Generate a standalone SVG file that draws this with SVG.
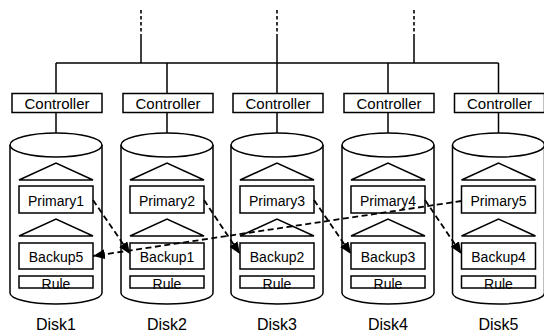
<svg xmlns="http://www.w3.org/2000/svg" width="544" height="332" viewBox="0 0 544 332">
<style>
.s{fill:none;stroke:#000;stroke-width:1.5}
.b{fill:#fff;stroke:#000;stroke-width:1.5}
.t{font-family:"Liberation Sans",Arial,sans-serif;fill:#000;text-anchor:middle}
.c{font-size:15px}
.p{font-size:14px}
.d{font-size:16px}
.dash{fill:none;stroke:#000;stroke-width:1.8;stroke-dasharray:6,3.5}
.top{fill:none;stroke:#000;stroke-width:1.6;stroke-dasharray:3.5,2.5}
</style>
<defs>
<marker id="ah" markerUnits="userSpaceOnUse" markerWidth="13" markerHeight="10" refX="12" refY="5" orient="auto">
<path d="M0,0 L12,5 L0,10 Z" fill="#000"/>
</marker>
<g id="disk">
<path class="b" d="M-46,145 L-46,293 A46,11 0 0 0 46,293 L46,145"/>
<ellipse class="b" cx="0" cy="145" rx="46" ry="12"/>
<path class="s" d="M-37,180 L0,163 L37,180 Z"/>
<rect class="s" x="-37" y="186" width="74" height="27"/>
<path class="s" d="M-37,236 L0,219 L37,236 Z"/>
<rect class="s" x="-37" y="243" width="74" height="26"/>
<rect class="s" x="-37" y="276" width="74" height="12"/>
</g>
</defs>
<g id="bus">
<line class="s" x1="56" y1="63" x2="498.5" y2="63"/>
<line class="s" x1="141" y1="34" x2="141" y2="63"/>
<line class="s" x1="277" y1="34" x2="277" y2="63"/>
<line class="s" x1="414" y1="34" x2="414" y2="63"/>
<line class="top" x1="141" y1="10" x2="141" y2="34"/>
<line class="top" x1="277" y1="10" x2="277" y2="34"/>
<line class="top" x1="414" y1="10" x2="414" y2="34"/>
</g>
<g id="disk1" transform="translate(56,0)">
<line class="s" x1="0" y1="63" x2="0" y2="93.5"/>
<line class="s" x1="0" y1="112.5" x2="0" y2="133"/>
<rect class="s" x="-44" y="93.5" width="90" height="19"/>
<text class="t c" x="1" y="108.5">Controller</text>
<use href="#disk"/>
<text class="t p" x="0" y="205.5">Primary1</text>
<text class="t p" x="0" y="261.5">Backup5</text>
<text class="t p" x="0" y="289">Rule</text>
<text class="t d" x="0" y="330">Disk1</text>
</g>
<g id="disk2" transform="translate(167,0)">
<line class="s" x1="0" y1="63" x2="0" y2="93.5"/>
<line class="s" x1="0" y1="112.5" x2="0" y2="133"/>
<rect class="s" x="-44" y="93.5" width="90" height="19"/>
<text class="t c" x="1" y="108.5">Controller</text>
<use href="#disk"/>
<text class="t p" x="0" y="205.5">Primary2</text>
<text class="t p" x="0" y="261.5">Backup1</text>
<text class="t p" x="0" y="289">Rule</text>
<text class="t d" x="0" y="330">Disk2</text>
</g>
<g id="disk3" transform="translate(277,0)">
<line class="s" x1="0" y1="63" x2="0" y2="93.5"/>
<line class="s" x1="0" y1="112.5" x2="0" y2="133"/>
<rect class="s" x="-44" y="93.5" width="90" height="19"/>
<text class="t c" x="1" y="108.5">Controller</text>
<use href="#disk"/>
<text class="t p" x="0" y="205.5">Primary3</text>
<text class="t p" x="0" y="261.5">Backup2</text>
<text class="t p" x="0" y="289">Rule</text>
<text class="t d" x="0" y="330">Disk3</text>
</g>
<g id="disk4" transform="translate(388,0)">
<line class="s" x1="0" y1="63" x2="0" y2="93.5"/>
<line class="s" x1="0" y1="112.5" x2="0" y2="133"/>
<rect class="s" x="-44" y="93.5" width="90" height="19"/>
<text class="t c" x="1" y="108.5">Controller</text>
<use href="#disk"/>
<text class="t p" x="0" y="205.5">Primary4</text>
<text class="t p" x="0" y="261.5">Backup3</text>
<text class="t p" x="0" y="289">Rule</text>
<text class="t d" x="0" y="330">Disk4</text>
</g>
<g id="disk5" transform="translate(498.5,0)">
<line class="s" x1="0" y1="63" x2="0" y2="93.5"/>
<line class="s" x1="0" y1="112.5" x2="0" y2="133"/>
<rect class="s" x="-44" y="93.5" width="90" height="19"/>
<text class="t c" x="1" y="108.5">Controller</text>
<use href="#disk"/>
<text class="t p" x="0" y="205.5">Primary5</text>
<text class="t p" x="0" y="261.5">Backup4</text>
<text class="t p" x="0" y="289">Rule</text>
<text class="t d" x="0" y="330">Disk5</text>
</g>
<g id="connectors">
<line class="dash" x1="93" y1="200" x2="130" y2="254" marker-end="url(#ah)"/>
<line class="dash" x1="204" y1="200" x2="240" y2="254" marker-end="url(#ah)"/>
<line class="dash" x1="314" y1="200" x2="351" y2="254" marker-end="url(#ah)"/>
<line class="dash" x1="425" y1="200" x2="461.5" y2="254" marker-end="url(#ah)"/>
<line class="dash" x1="461.5" y1="201" x2="93" y2="256" marker-end="url(#ah)"/>
</g>
</svg>
